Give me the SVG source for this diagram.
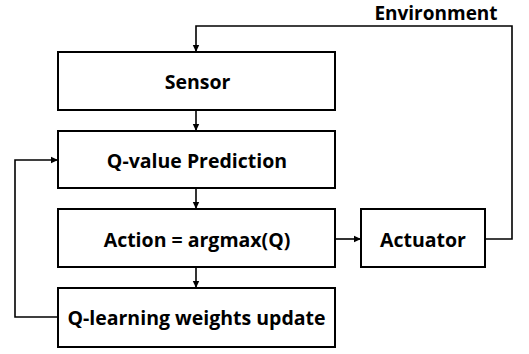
<svg xmlns="http://www.w3.org/2000/svg" width="529" height="354" viewBox="0 0 529 354">
<style>
.box{fill:#fff;stroke:#000;stroke-width:2}
.t{font-family:"Open Sans","Noto Sans",sans-serif;font-weight:bold;font-size:19.5px;fill:#000;text-anchor:middle}
.c{fill:none;stroke:#000;stroke-width:1.6}
</style>
<defs>
<marker id="ah" markerWidth="8" markerHeight="8" refX="7" refY="4" orient="auto" markerUnits="userSpaceOnUse">
<path d="M0,0.8 L7,4 L0,7.2 Z" fill="#000"/>
</marker>
</defs>
<g id="connectors">
<path class="c" d="M196,110 V131" marker-end="url(#ah)"/>
<path class="c" d="M196,188 V209" marker-end="url(#ah)"/>
<path class="c" d="M196,267 V288" marker-end="url(#ah)"/>
<path class="c" d="M335,239 H361" marker-end="url(#ah)"/>
<path class="c" d="M485,239 H512 V26 H196 V52" marker-end="url(#ah)"/>
<path class="c" d="M58,317 H15 V160 H58" marker-end="url(#ah)"/>
</g>
<text class="t" x="436" y="20" style="font-size:19px">Environment</text>
<g id="sensor"><rect class="box" x="58" y="52" width="277" height="58"/><text class="t" x="197.5" y="89">Sensor</text></g>
<g id="qvalue"><rect class="box" x="58" y="131" width="277" height="57"/><text class="t" x="197" y="168">Q-value Prediction</text></g>
<g id="action"><rect class="box" x="58" y="209" width="277" height="58"/><text class="t" x="197" y="247">Action = argmax(Q)</text></g>
<g id="actuator"><rect class="box" x="361" y="209" width="124" height="58"/><text class="t" x="423" y="247">Actuator</text></g>
<g id="qlearning"><rect class="box" x="58" y="288" width="277" height="59"/><text class="t" x="196.5" y="325">Q-learning weights update</text></g>
</svg>
